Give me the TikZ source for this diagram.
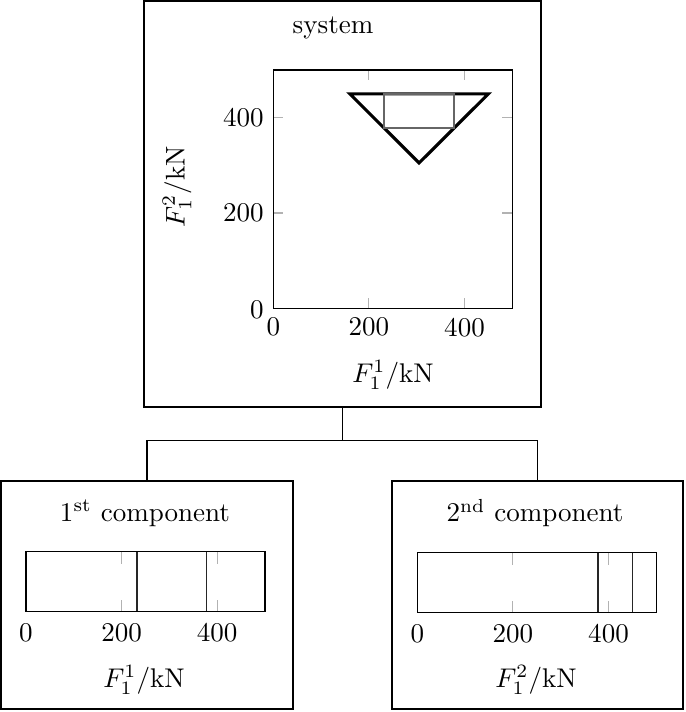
\documentclass[tikz,border=0pt]{standalone}
\usetikzlibrary{fit}
\begin{document}
\begin{tikzpicture}[x=0.37pt,y=-0.37pt,
  panel/.style={draw, line width=0.4pt, inner sep=0pt},
  axisframe/.style={draw, line width=0.45pt},
  tickmark/.style={draw=black!30, line width=0.4pt},
  region/.style={line width=1.15pt, line join=miter},
  boxbound/.style={draw=black!60, line width=0.8pt},
  cut/.style={draw=black!85, line width=0.6pt},
  lbl/.style={inner sep=0pt}]
\useasboundingbox (0,0) rectangle (685,712);
% panels
\node[panel, fit={(144,1) (541,407)}] (sys) {};
\node[panel, fit={(1,481) (293,709)}] (c1) {};
\node[panel, fit={(392,481) (683,709)}] (c2) {};
% connectors
\draw[line width=0.4pt] (sys.south) -- ++(0,33) coordinate (j) -| (c1.north);
\draw[line width=0.4pt] (j) -| (c2.north);
% ---------- system plot ----------
\foreach \v in {200,400} {
  \draw[tickmark] ({273.3+\v*0.478},308.3) -- ++(0,-10);
  \draw[tickmark] ({273.3+\v*0.478},70) -- ++(0,10);
  \draw[tickmark] (273.3,{308.3-\v*0.4766}) -- ++(10,0);
  \draw[tickmark] (512.3,{308.3-\v*0.4766}) -- ++(-10,0);
}
\node[axisframe, fit={(273.3,70) (512.3,308.3)}, inner sep=0pt] (ax) {};
\draw[region] ({273.3+160*0.478},{308.3-450*0.4766}) -- ({273.3+305*0.478},{308.3-305*0.4766}) -- ({273.3+450*0.478},{308.3-450*0.4766}) -- cycle;
\draw[boxbound] ({273.3+232*0.478},{308.3-450*0.4766}) rectangle ({273.3+378*0.478},{308.3-378*0.4766});
\node[anchor=north] (sx0) at (273.3,308.3) {0};
\node[anchor=north] (sx2) at ({273.3+200*0.478},308.3) {200};
\node[anchor=north] (sx4) at ({273.3+400*0.478},308.3) {400};
\node[anchor=east] (sy0) at (273.3,310) {0};
\node[anchor=east] (sy2) at (273.3,{308.3-200*0.4766}) {200};
\node[anchor=east] (sy4) at (273.3,{308.3-400*0.4766}) {400};
\node (sxl) at (393,375) {$F_1^1/\mathrm{kN}$};
\node[rotate=90] (syl) at (177,187) {$F_1^2/\mathrm{kN}$};
\node (stitle) at (333,28) {system};
% ---------- component 1 ----------
\foreach \v in {200,400} {
  \draw[tickmark] ({26+\v*0.478},611.7) -- ++(0,-12);
  \draw[tickmark] ({26+\v*0.478},551.7) -- ++(0,12);
}
\draw[cut] ({26+232*0.478},551.7) -- ({26+232*0.478},611.7);
\draw[cut] ({26+378*0.478},551.7) -- ({26+378*0.478},611.7);
\node[axisframe, fit={(26,551.7) (265,611.7)}, inner sep=0pt] (ax1) {};
\node[anchor=north] (ax1t0) at (26,614) {0};
\node[anchor=north] (ax1t2) at ({26+200*0.478},614) {200};
\node[anchor=north] (ax1t4) at ({26+400*0.478},614) {400};
\node (ax1l) at (144,680) {$F_1^1/\mathrm{kN}$};
\node (c1t) at (145,513) {$1^{\mathrm{st}}$ component};
% ---------- component 2 ----------
\foreach \v in {200,400} {
  \draw[tickmark] ({417.3+\v*0.478},612.7) -- ++(0,-12);
  \draw[tickmark] ({417.3+\v*0.478},552.7) -- ++(0,12);
}
\draw[cut] ({417.3+378*0.478},552.7) -- ({417.3+378*0.478},612.7);
\draw[cut] ({417.3+450*0.478},552.7) -- ({417.3+450*0.478},612.7);
\node[axisframe, fit={(417.3,552.7) (656.3,612.7)}, inner sep=0pt] (ax2) {};
\node[anchor=north] (ax2t0) at (417.3,615) {0};
\node[anchor=north] (ax2t2) at ({417.3+200*0.478},615) {200};
\node[anchor=north] (ax2t4) at ({417.3+400*0.478},615) {400};
\node (ax2l) at (536,680) {$F_1^2/\mathrm{kN}$};
\node (c2t) at (535,513) {$2^{\mathrm{nd}}$ component};
\end{tikzpicture}
\end{document}
